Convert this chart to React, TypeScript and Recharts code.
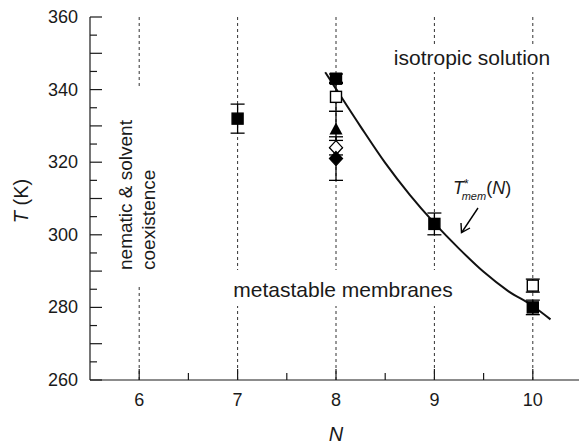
import {
  ComposedChart,
  Line,
  Scatter,
  XAxis,
  YAxis,
  ErrorBar,
  ReferenceLine,
} from "recharts";

// axis ticks
const nTicks = [6, 6.5, 7, 7.5, 8, 8.5, 9, 9.5, 10];
const tTicks = [260, 265, 270, 275, 280, 285, 290, 295, 300, 305, 310, 315, 320, 325, 330, 335, 340, 345, 350, 355, 360];
const phaseLines = [6, 7, 8, 9, 10];

// filled squares
const fsN = [7, 8, 9, 10];
const fsT = [332, 343, 303, 280];
const fsErr = [4, 1.3, 3, 2];

// open squares
const osN = [8, 10];
const osT = [338, 286];
const osErr = [4, 1.8];

// filled triangle
const triN = [8];
const triT = [329];
const triErr = [5];

// open diamond
const odN = [8];
const odT = [324];
const odErr = [2];

// filled diamond
const fdN = [8];
const fdT = [321];
const fdErr = [6];

// T*mem(N) curve
const curveN = [7.89, 8, 8.25, 8.5, 8.75, 9, 9.25, 9.5, 9.75, 10, 10.18];
const curveT = [344.8, 340.2, 329.8, 319.8, 311, 303.2, 296.2, 289.8, 284.5, 280.4, 276.7];

const toPoints = (ns: number[], ts: number[], es: number[]) =>
  ns.map((n, i) => ({ N: n, T: ts[i], err: es[i] }));

const curve = curveN.map((n, i) => ({ N: n, T: curveT[i] }));

const FONT = '"Liberation Sans", Arial, Helvetica, sans-serif';
const INK = "#1a1a1a";

const square = (fill: string) => (p: any) => (
  <rect x={p.cx - 5.5} y={p.cy - 5.5} width={11} height={11} fill={fill} stroke="#000" strokeWidth={1.4} />
);

const triangle = (p: any) => (
  <path d={`M${p.cx},${p.cy - 7} L${p.cx + 6.5},${p.cy + 5} L${p.cx - 6.5},${p.cy + 5} Z`} fill="#000" />
);

const diamond = (fill: string) => (p: any) => (
  <path
    d={`M${p.cx},${p.cy - 7} L${p.cx + 6.5},${p.cy} L${p.cx},${p.cy + 7} L${p.cx - 6.5},${p.cy} Z`}
    fill={fill}
    stroke="#000"
    strokeWidth={1.3}
  />
);

function BottomTick({ x, y, payload }: any) {
  const major = Number.isInteger(payload.value);
  return (
    <g>
      <line x1={x} y1={y} x2={x} y2={y - (major ? 11 : 7)} stroke={INK} strokeWidth={1.2} />
      {major && (
        <text x={x} y={y + 26} textAnchor="middle" fontSize={18} fontFamily={FONT} fill={INK}>
          {payload.value}
        </text>
      )}
    </g>
  );
}

function TopTick({ x, y, payload }: any) {
  const major = Number.isInteger(payload.value);
  return <line x1={x} y1={y} x2={x} y2={y + (major ? 11 : 7)} stroke={INK} strokeWidth={1.2} />;
}

function LeftTick({ x, y, payload }: any) {
  const v = payload.value;
  const major = v % 10 === 0;
  return (
    <g>
      <line x1={x} y1={y} x2={x + (major ? 12 : 7)} y2={y} stroke={INK} strokeWidth={1.2} />
      {v % 20 === 0 && (
        <text x={x - 12} y={y + 6} textAnchor="end" fontSize={18} fontFamily={FONT} fill={INK}>
          {v}
        </text>
      )}
    </g>
  );
}

function RightTick({ x, y, payload }: any) {
  const major = payload.value % 10 === 0;
  return <line x1={x} y1={y} x2={x - (major ? 12 : 7)} y2={y} stroke={INK} strokeWidth={1.2} />;
}

export default function App() {
  return (
    <div style={{ position: "absolute", left: 0, top: 0, width: 579, height: 447, overflow: "hidden", background: "#fff" }}>
      <ComposedChart width={600} height={447} margin={{ top: 17, right: 18, bottom: 0, left: 0 }}>
        <XAxis
          dataKey="N"
          type="number"
          domain={[5.5, 10.5]}
          ticks={nTicks}
          interval={0}
          allowDataOverflow
          height={67}
          tickSize={0}
          tickMargin={0}
          tickLine={false}
          tick={<BottomTick />}
          axisLine={{ stroke: INK, strokeWidth: 1.2 }}
        />
        <XAxis
          xAxisId="top"
          orientation="top"
          type="number"
          domain={[5.5, 10.5]}
          ticks={nTicks}
          interval={0}
          allowDataOverflow
          height={0}
          tickSize={0}
          tickMargin={0}
          tickLine={false}
          tick={<TopTick />}
          axisLine={{ stroke: INK, strokeWidth: 1.2 }}
        />
        <YAxis
          dataKey="T"
          type="number"
          domain={[260, 360]}
          ticks={tTicks}
          interval={0}
          allowDataOverflow
          width={90}
          tickSize={0}
          tickMargin={0}
          tickLine={false}
          tick={<LeftTick />}
          axisLine={{ stroke: INK, strokeWidth: 1.2 }}
        />
        <YAxis
          yAxisId="right"
          orientation="right"
          type="number"
          domain={[260, 360]}
          ticks={tTicks}
          interval={0}
          allowDataOverflow
          width={0}
          tickSize={0}
          tickMargin={0}
          tickLine={false}
          tick={<RightTick />}
          axisLine={{ stroke: INK, strokeWidth: 1.2 }}
        />

        {phaseLines.map((n) => (
          <ReferenceLine key={n} x={n} stroke="#333" strokeDasharray="3 3" strokeWidth={1} />
        ))}

        <Scatter data={toPoints(osN, osT, osErr)} dataKey="T" shape={square("#fff")} isAnimationActive={false}>
          <ErrorBar dataKey="err" direction="y" width={7} stroke="#000" strokeWidth={1.3} />
        </Scatter>
        <Scatter data={toPoints(triN, triT, triErr)} dataKey="T" shape={triangle} isAnimationActive={false}>
          <ErrorBar dataKey="err" direction="y" width={7} stroke="#000" strokeWidth={1.3} />
        </Scatter>
        <Scatter data={toPoints(odN, odT, odErr)} dataKey="T" shape={diamond("#fff")} isAnimationActive={false}>
          <ErrorBar dataKey="err" direction="y" width={7} stroke="#000" strokeWidth={1.3} />
        </Scatter>
        <Scatter data={toPoints(fdN, fdT, fdErr)} dataKey="T" shape={diamond("#000")} isAnimationActive={false}>
          <ErrorBar dataKey="err" direction="y" width={7} stroke="#000" strokeWidth={1.3} />
        </Scatter>
        <Scatter data={toPoints(fsN, fsT, fsErr)} dataKey="T" shape={square("#000")} isAnimationActive={false}>
          <ErrorBar dataKey="err" direction="y" width={7} stroke="#000" strokeWidth={1.3} />
        </Scatter>

        <Line
          data={curve}
          dataKey="T"
          type="monotone"
          dot={false}
          activeDot={false}
          stroke="#111"
          strokeWidth={2}
          isAnimationActive={false}
        />
      </ComposedChart>

      <svg
        width={579}
        height={447}
        style={{ position: "absolute", left: 0, top: 0, pointerEvents: "none" }}
        fontFamily={FONT}
        fill={INK}
      >
        {/* region labels */}
        <rect x={112} y={86} width={50} height={198} fill="#fff" />
        <text transform="translate(132,270) rotate(-90)" fontSize={19}>nematic &amp; solvent</text>
        <text transform="translate(155,270) rotate(-90)" fontSize={19}>coexistence</text>

        <rect x={390} y={44} width={165} height={28} fill="#fff" />
        <text x={472} y={65} textAnchor="middle" fontSize={21}>isotropic solution</text>

        <rect x={224} y={270} width={238} height={36} fill="#fff" />
        <text x={343} y={297} textAnchor="middle" fontSize={21}>metastable membranes</text>

        {/* curve label + arrow */}
        <text x={453} y={194} fontSize={18} fontStyle="italic">
          T
          <tspan dx={0} dy={-6} fontSize={12} fontStyle="normal">*</tspan>
          <tspan dx={-7} dy={12} fontSize={11}>mem</tspan>
          <tspan dy={-6} fontSize={18} fontStyle="normal">(</tspan>
          <tspan>N</tspan>
          <tspan fontStyle="normal">)</tspan>
        </text>
        <line x1={478} y1={208} x2={462} y2={232} stroke="#000" strokeWidth={1.4} />
        <polyline points="461,223 461.5,232.5 470,228" fill="none" stroke="#000" strokeWidth={1.4} />

        {/* axis titles */}
        <text transform="translate(28,201) rotate(-90)" textAnchor="middle" fontSize={20}>
          <tspan fontStyle="italic">T</tspan> (K)
        </text>
        <text x={336} y={441} textAnchor="middle" fontSize={20} fontStyle="italic">N</text>
      </svg>
    </div>
  );
}
